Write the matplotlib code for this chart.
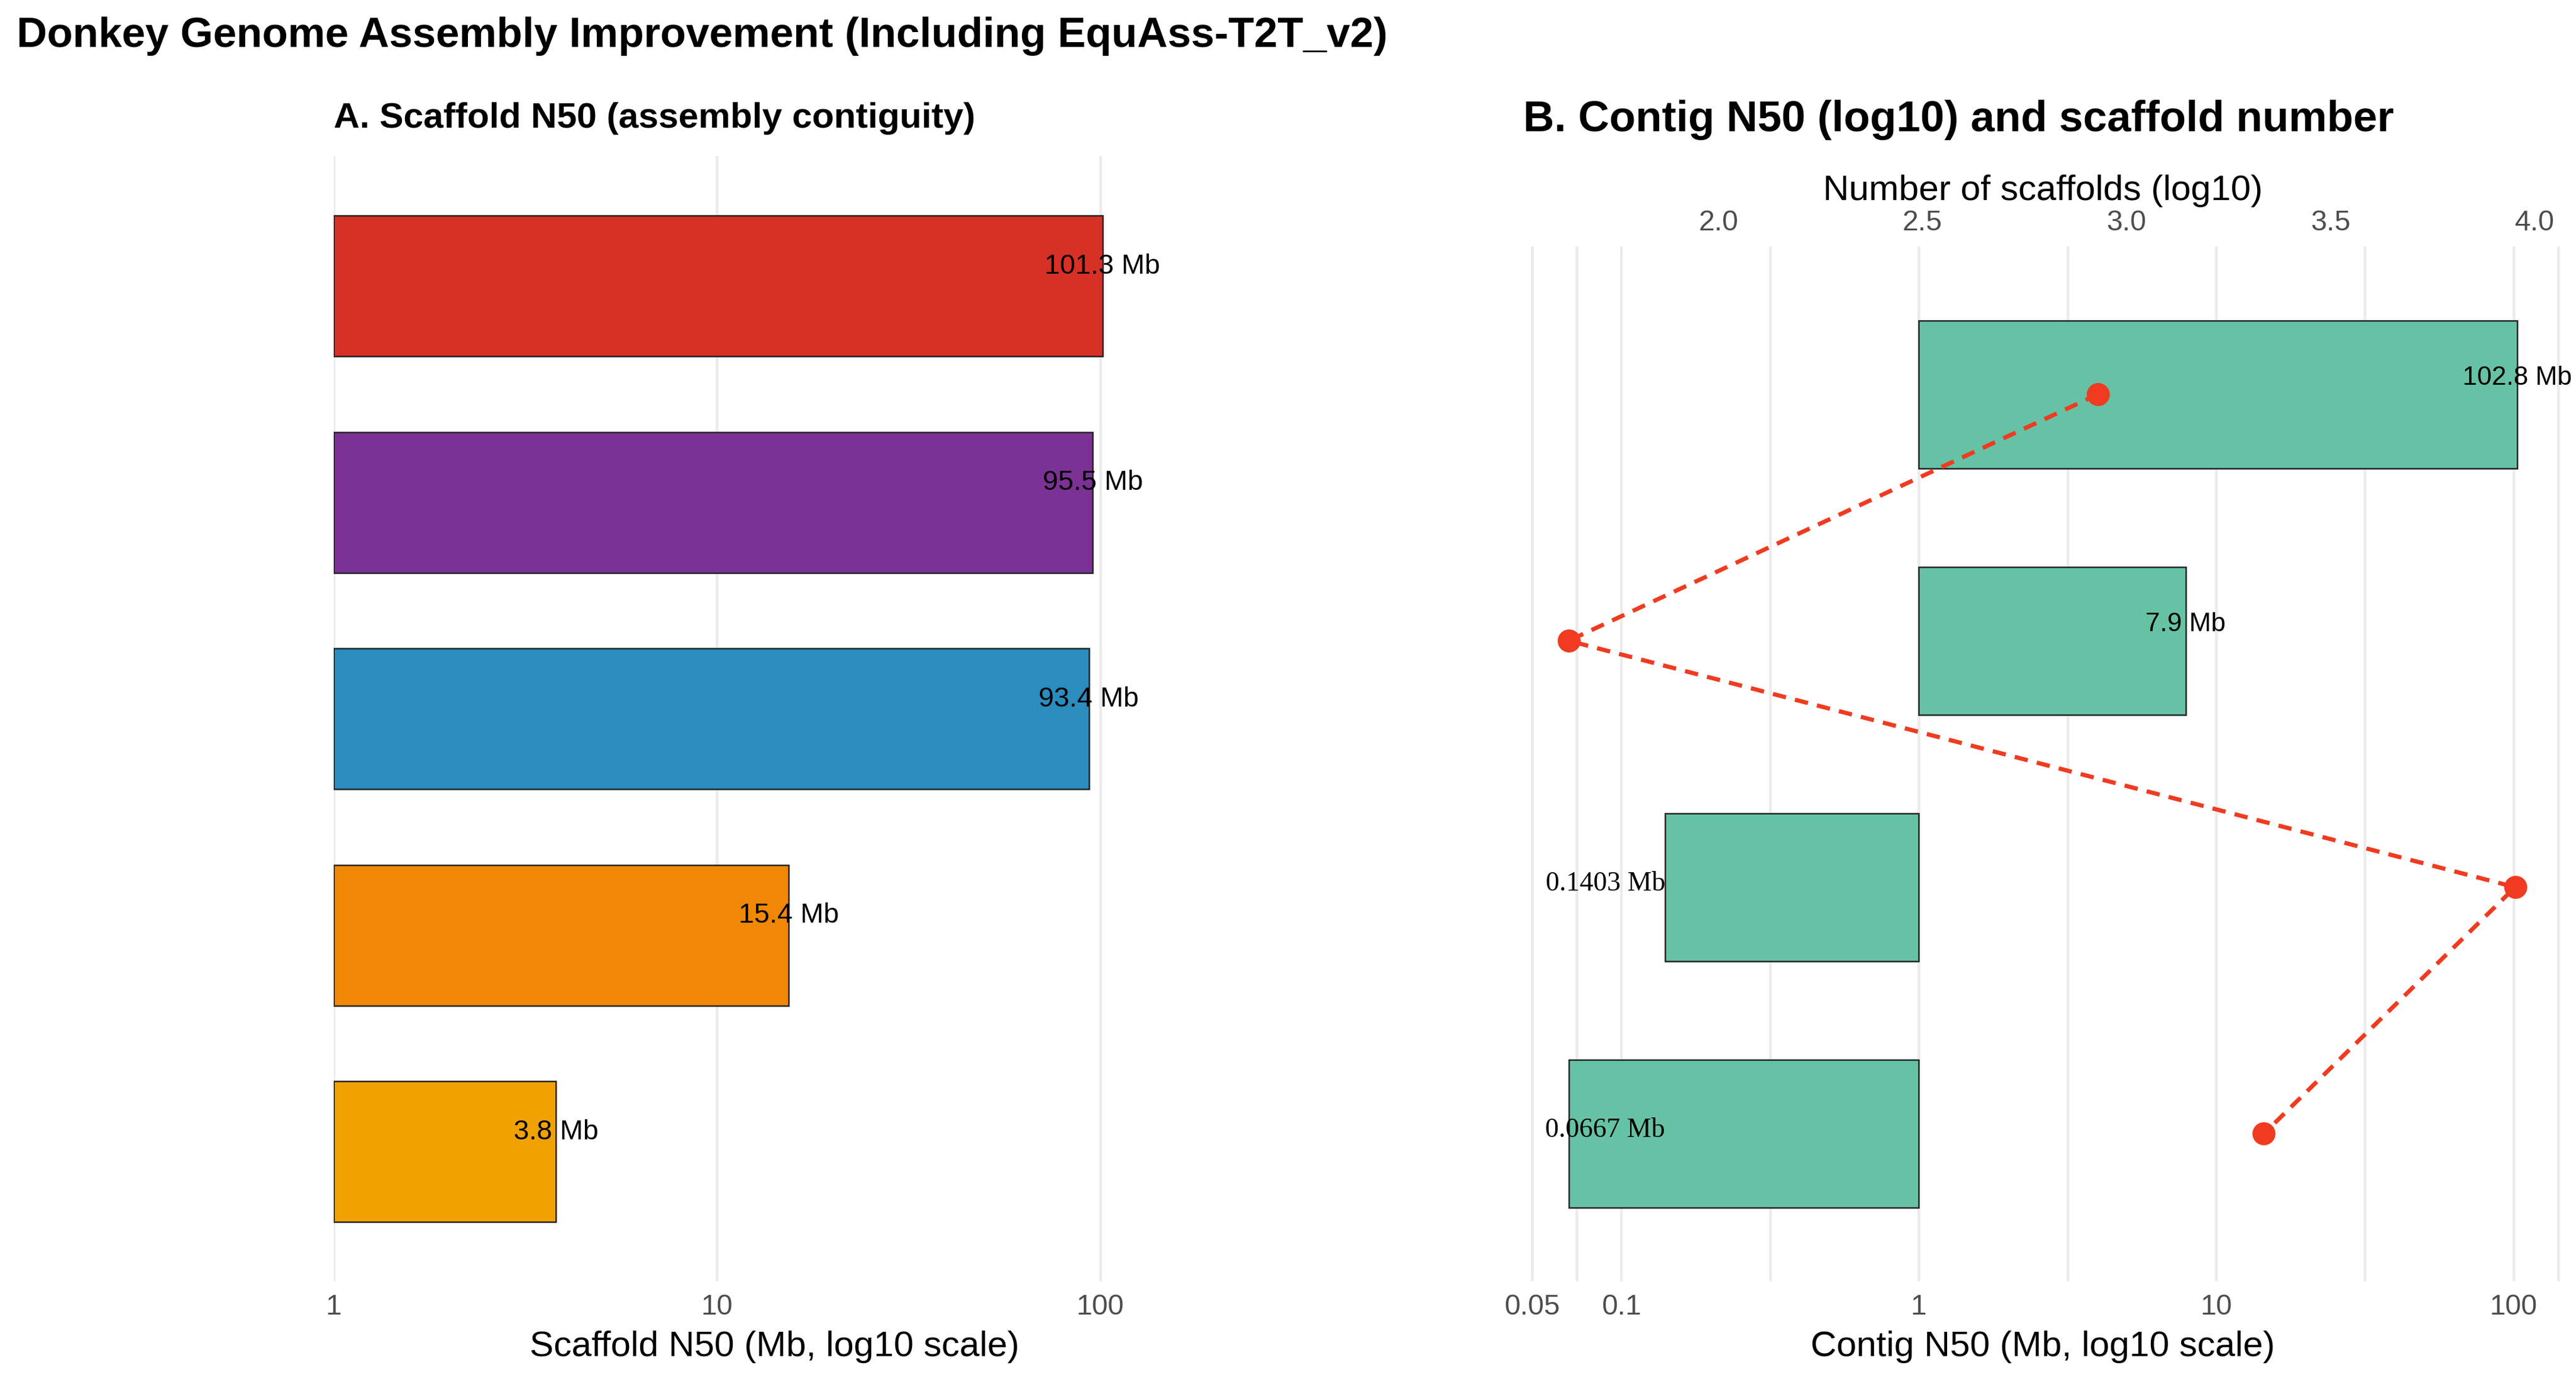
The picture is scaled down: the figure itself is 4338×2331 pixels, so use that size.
import numpy as np
import matplotlib
matplotlib.use("Agg")
import matplotlib.pyplot as plt

# panel A: scaffold N50 (Mb), top to bottom
scaffold_n50 = [101.3, 95.5, 93.4, 15.4, 3.8]
scaffold_colors = ["#D73027", "#7B3294", "#2B8CBE", "#F08805", "#F0A202"]

# panel B: contig N50 (Mb) and number of scaffolds, top to bottom
contig_n50 = [102.8, 7.9, 0.1403, 0.0667]
n_scaffolds = [851, 43, 8950, 2170]

contig_ticks = [0.05, 0.1, 1, 10, 100]
contig_tick_labels = ["0.05", "0.1", "1", "10", "100"]
scaf_ticks = [2.0, 2.5, 3.0, 3.5, 4.0]

SANS = "Liberation Sans"
SERIF = "Liberation Serif"
plt.rcParams["font.family"] = SANS

W, H = 1568.0, 842.4  # reference layout units


def box(left, top, right, bottom):
    return [left / W, 1 - bottom / H, (right - left) / W, (bottom - top) / H]


# mapping between contig axis and scaffold-count axis (top)
A_OFF, B_SLOPE = 2.491, 0.7284


def to_scaf(x):
    x = np.asarray(x, dtype=float)
    return A_OFF + B_SLOPE * np.log10(np.clip(x, 1e-12, None))


def from_scaf(s):
    return 10 ** ((np.asarray(s, dtype=float) - A_OFF) / B_SLOPE)


def style_axis(ax):
    for sp in ax.spines.values():
        sp.set_visible(False)
    ax.tick_params(axis="both", which="both", length=0, labelsize=11.6,
                   labelcolor="#4D4D4D")
    ax.set_yticks([])
    ax.minorticks_off()


fig = plt.figure(figsize=(4338 / 300, 2331 / 300), dpi=300)

fig.text(10 / W, 1 - 22 / H, "Donkey Genome Assembly Improvement (Including EquAss-T2T_v2)",
         fontsize=17.0, fontweight="bold", ha="left", va="center")

# ---- panel A
axA = fig.add_axes(box(203, 95, 740, 780))
axA.set_xscale("log")
nA = len(scaffold_n50)
yA = np.arange(nA)[::-1]
for g in [1, 10, 100]:
    axA.axvline(g, color="#EBEBEB", lw=1.1, zorder=0)
vals = np.array(scaffold_n50)
axA.barh(yA, vals - 1, left=1, height=0.65, color=scaffold_colors,
         edgecolor="#222222", linewidth=0.6, zorder=2)
for y, v in zip(yA, vals):
    axA.text(v, y + 0.09, f"{v:.1f} Mb", ha="center", va="center",
             fontsize=11.2, zorder=3)
axA.set_xlim(1, 200)
axA.set_ylim(-0.6, nA - 0.4)
style_axis(axA)
axA.set_xticks(contig_ticks[2:])
axA.set_xticklabels(contig_tick_labels[2:])
axA.tick_params(axis="x", pad=5)
axA.set_xlabel("Scaffold N50 (Mb, log10 scale)", fontsize=14.5, labelpad=4)
axA.text(0, 1 + 23 / 685, "A. Scaffold N50 (assembly contiguity)", transform=axA.transAxes,
         fontsize=14.5, fontweight="bold", ha="left", va="center")

# ---- panel B
axB = fig.add_axes(box(927, 150, 1560, 780))
axB.set_xscale("log")
nB = len(contig_n50)
yB = np.arange(nB)[::-1]
major = np.log10(contig_ticks)
grid_pos = list(major) + list((major[:-1] + major[1:]) / 2) + [2.15]
for g in grid_pos:
    axB.axvline(10 ** g, color="#EBEBEB", lw=1.1, zorder=0)
cv = np.array(contig_n50)
axB.barh(yB, np.abs(cv - 1), left=np.minimum(cv, 1), height=0.6, color="#66C2A5",
         edgecolor="#222222", linewidth=0.6, zorder=2)
small_anchor = max(v for v in contig_n50 if v < 1)
for y, v in zip(yB, cv):
    if v >= 1:
        axB.text(v, y + 0.067, f"{v:.1f} Mb", ha="center", va="center",
                 fontsize=10.6, zorder=3)
    else:
        axB.text(small_anchor, y + 0.013, f"{v:.4f} Mb", ha="right", va="center",
                 fontsize=11.0, family=SERIF, zorder=3)
px = from_scaf(np.log10(n_scaffolds))
axB.plot(px, yB, color="#F03B20", lw=1.7, ls=(0, (3.2, 2.2)), zorder=4)
axB.plot(px, yB, "o", color="#F03B20", ms=9.3, mec="none", zorder=5)
axB.set_xlim(10 ** -1.331, 10 ** 2.166)
axB.set_ylim(-0.6, nB - 0.4)
style_axis(axB)
axB.set_xticks(contig_ticks)
axB.set_xticklabels(contig_tick_labels)
axB.tick_params(axis="x", pad=5)
axB.set_xlabel("Contig N50 (Mb, log10 scale)", fontsize=14.5, labelpad=4)

sec = axB.secondary_xaxis("top", functions=(to_scaf, from_scaf))
sec.set_xticks(scaf_ticks)
sec.set_xticklabels([f"{t:.1f}" for t in scaf_ticks])
sec.minorticks_off()
sec.tick_params(axis="x", which="both", length=0, labelsize=11.6,
                labelcolor="#4D4D4D", pad=4)
for sp in sec.spines.values():
    sp.set_visible(False)
sec.set_xlabel("Number of scaffolds (log10)", fontsize=14.5, labelpad=4)
axB.text(0, 1 + 77 / 630, "B. Contig N50 (log10) and scaffold number",
         transform=axB.transAxes, fontsize=17.4, fontweight="bold",
         ha="left", va="center")

fig.savefig("out.png", dpi=300, facecolor="white")
